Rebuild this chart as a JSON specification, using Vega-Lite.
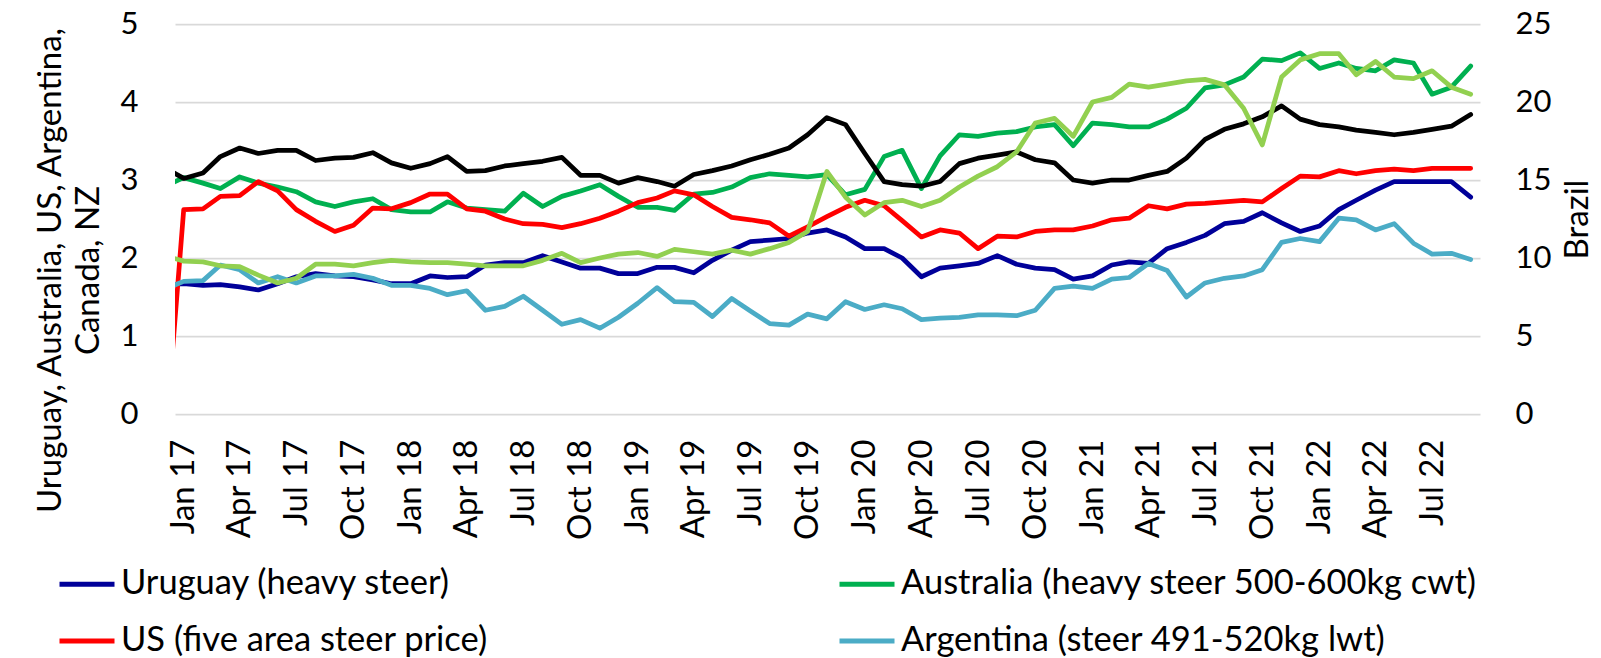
{
  "$schema": "https://vega.github.io/schema/vega-lite/v6.json",
  "width": 1305,
  "height": 390,
  "autosize": "none",
  "padding": {"left": 175, "top": 24, "right": 121, "bottom": 244},
  "background": "white",
  "config": {"view": {"stroke": null}},
  "data": {"values": [
    {"d":"2016-12-01","Uruguay":1.65,"Australia":2.92,"US":-0.5,"Argentina":1.60,"Canada":3.16,"Brazil":10.15},
    {"d":"2017-01-01","Uruguay":1.67,"Australia":3.03,"US":2.62,"Argentina":1.70,"Canada":3.02,"Brazil":9.8},
    {"d":"2017-02-01","Uruguay":1.65,"Australia":2.96,"US":2.63,"Argentina":1.71,"Canada":3.09,"Brazil":9.75},
    {"d":"2017-03-01","Uruguay":1.66,"Australia":2.89,"US":2.79,"Argentina":1.91,"Canada":3.30,"Brazil":9.5},
    {"d":"2017-04-01","Uruguay":1.63,"Australia":3.04,"US":2.80,"Argentina":1.85,"Canada":3.41,"Brazil":9.45},
    {"d":"2017-05-01","Uruguay":1.59,"Australia":2.96,"US":2.98,"Argentina":1.68,"Canada":3.34,"Brazil":8.9},
    {"d":"2017-06-01","Uruguay":1.67,"Australia":2.91,"US":2.86,"Argentina":1.76,"Canada":3.38,"Brazil":8.4},
    {"d":"2017-07-01","Uruguay":1.76,"Australia":2.85,"US":2.62,"Argentina":1.68,"Canada":3.38,"Brazil":8.7},
    {"d":"2017-08-01","Uruguay":1.80,"Australia":2.72,"US":2.47,"Argentina":1.77,"Canada":3.25,"Brazil":9.6},
    {"d":"2017-09-01","Uruguay":1.77,"Australia":2.66,"US":2.34,"Argentina":1.77,"Canada":3.28,"Brazil":9.6},
    {"d":"2017-10-01","Uruguay":1.76,"Australia":2.72,"US":2.42,"Argentina":1.79,"Canada":3.29,"Brazil":9.5},
    {"d":"2017-11-01","Uruguay":1.72,"Australia":2.76,"US":2.64,"Argentina":1.74,"Canada":3.35,"Brazil":9.7},
    {"d":"2017-12-01","Uruguay":1.67,"Australia":2.62,"US":2.63,"Argentina":1.65,"Canada":3.22,"Brazil":9.85},
    {"d":"2018-01-01","Uruguay":1.67,"Australia":2.59,"US":2.71,"Argentina":1.65,"Canada":3.15,"Brazil":9.75},
    {"d":"2018-02-01","Uruguay":1.77,"Australia":2.59,"US":2.82,"Argentina":1.61,"Canada":3.21,"Brazil":9.7},
    {"d":"2018-03-01","Uruguay":1.75,"Australia":2.72,"US":2.82,"Argentina":1.53,"Canada":3.30,"Brazil":9.7},
    {"d":"2018-04-01","Uruguay":1.76,"Australia":2.64,"US":2.63,"Argentina":1.58,"Canada":3.11,"Brazil":9.6},
    {"d":"2018-05-01","Uruguay":1.91,"Australia":2.62,"US":2.60,"Argentina":1.33,"Canada":3.12,"Brazil":9.5},
    {"d":"2018-06-01","Uruguay":1.94,"Australia":2.60,"US":2.50,"Argentina":1.38,"Canada":3.18,"Brazil":9.5},
    {"d":"2018-07-01","Uruguay":1.94,"Australia":2.83,"US":2.44,"Argentina":1.51,"Canada":3.21,"Brazil":9.5},
    {"d":"2018-08-01","Uruguay":2.03,"Australia":2.66,"US":2.43,"Argentina":1.33,"Canada":3.24,"Brazil":9.85},
    {"d":"2018-09-01","Uruguay":1.95,"Australia":2.79,"US":2.39,"Argentina":1.15,"Canada":3.29,"Brazil":10.3},
    {"d":"2018-10-01","Uruguay":1.87,"Australia":2.86,"US":2.44,"Argentina":1.21,"Canada":3.06,"Brazil":9.7},
    {"d":"2018-11-01","Uruguay":1.87,"Australia":2.94,"US":2.51,"Argentina":1.10,"Canada":3.06,"Brazil":10.0},
    {"d":"2018-12-01","Uruguay":1.80,"Australia":2.79,"US":2.60,"Argentina":1.24,"Canada":2.96,"Brazil":10.25},
    {"d":"2019-01-01","Uruguay":1.80,"Australia":2.65,"US":2.71,"Argentina":1.42,"Canada":3.03,"Brazil":10.35},
    {"d":"2019-02-01","Uruguay":1.88,"Australia":2.65,"US":2.77,"Argentina":1.62,"Canada":2.98,"Brazil":10.1},
    {"d":"2019-03-01","Uruguay":1.88,"Australia":2.61,"US":2.86,"Argentina":1.44,"Canada":2.92,"Brazil":10.55},
    {"d":"2019-04-01","Uruguay":1.81,"Australia":2.82,"US":2.81,"Argentina":1.43,"Canada":3.07,"Brazil":10.4},
    {"d":"2019-05-01","Uruguay":1.97,"Australia":2.84,"US":2.66,"Argentina":1.25,"Canada":3.12,"Brazil":10.25},
    {"d":"2019-06-01","Uruguay":2.10,"Australia":2.91,"US":2.52,"Argentina":1.48,"Canada":3.18,"Brazil":10.5},
    {"d":"2019-07-01","Uruguay":2.21,"Australia":3.03,"US":2.49,"Argentina":1.32,"Canada":3.26,"Brazil":10.25},
    {"d":"2019-08-01","Uruguay":2.23,"Australia":3.08,"US":2.45,"Argentina":1.16,"Canada":3.33,"Brazil":10.6},
    {"d":"2019-09-01","Uruguay":2.25,"Australia":3.06,"US":2.28,"Argentina":1.14,"Canada":3.41,"Brazil":11.0},
    {"d":"2019-10-01","Uruguay":2.32,"Australia":3.04,"US":2.40,"Argentina":1.28,"Canada":3.58,"Brazil":11.7},
    {"d":"2019-11-01","Uruguay":2.36,"Australia":3.07,"US":2.53,"Argentina":1.22,"Canada":3.80,"Brazil":15.55},
    {"d":"2019-12-01","Uruguay":2.27,"Australia":2.81,"US":2.65,"Argentina":1.44,"Canada":3.71,"Brazil":13.9},
    {"d":"2020-01-01","Uruguay":2.12,"Australia":2.88,"US":2.74,"Argentina":1.34,"Canada":3.34,"Brazil":12.75},
    {"d":"2020-02-01","Uruguay":2.12,"Australia":3.30,"US":2.67,"Argentina":1.40,"Canada":2.98,"Brazil":13.55},
    {"d":"2020-03-01","Uruguay":2.00,"Australia":3.38,"US":2.48,"Argentina":1.35,"Canada":2.94,"Brazil":13.7},
    {"d":"2020-04-01","Uruguay":1.76,"Australia":2.89,"US":2.27,"Argentina":1.21,"Canada":2.92,"Brazil":13.3},
    {"d":"2020-05-01","Uruguay":1.87,"Australia":3.31,"US":2.36,"Argentina":1.23,"Canada":2.98,"Brazil":13.7},
    {"d":"2020-06-01","Uruguay":1.90,"Australia":3.58,"US":2.32,"Argentina":1.24,"Canada":3.21,"Brazil":14.55},
    {"d":"2020-07-01","Uruguay":1.93,"Australia":3.56,"US":2.12,"Argentina":1.27,"Canada":3.28,"Brazil":15.25},
    {"d":"2020-08-01","Uruguay":2.03,"Australia":3.60,"US":2.28,"Argentina":1.27,"Canada":3.32,"Brazil":15.85},
    {"d":"2020-09-01","Uruguay":1.92,"Australia":3.62,"US":2.27,"Argentina":1.26,"Canada":3.36,"Brazil":16.8},
    {"d":"2020-10-01","Uruguay":1.87,"Australia":3.68,"US":2.34,"Argentina":1.33,"Canada":3.26,"Brazil":18.65},
    {"d":"2020-11-01","Uruguay":1.85,"Australia":3.71,"US":2.36,"Argentina":1.61,"Canada":3.22,"Brazil":18.95},
    {"d":"2020-12-01","Uruguay":1.73,"Australia":3.44,"US":2.36,"Argentina":1.64,"Canada":3.00,"Brazil":17.8},
    {"d":"2021-01-01","Uruguay":1.77,"Australia":3.73,"US":2.41,"Argentina":1.61,"Canada":2.96,"Brazil":20.0},
    {"d":"2021-02-01","Uruguay":1.91,"Australia":3.71,"US":2.49,"Argentina":1.73,"Canada":3.00,"Brazil":20.3},
    {"d":"2021-03-01","Uruguay":1.95,"Australia":3.68,"US":2.51,"Argentina":1.75,"Canada":3.00,"Brazil":21.15},
    {"d":"2021-04-01","Uruguay":1.93,"Australia":3.68,"US":2.67,"Argentina":1.93,"Canada":3.06,"Brazil":20.95},
    {"d":"2021-05-01","Uruguay":2.12,"Australia":3.78,"US":2.63,"Argentina":1.84,"Canada":3.11,"Brazil":21.15},
    {"d":"2021-06-01","Uruguay":2.20,"Australia":3.92,"US":2.69,"Argentina":1.50,"Canada":3.28,"Brazil":21.35},
    {"d":"2021-07-01","Uruguay":2.29,"Australia":4.18,"US":2.70,"Argentina":1.68,"Canada":3.52,"Brazil":21.45},
    {"d":"2021-08-01","Uruguay":2.44,"Australia":4.22,"US":2.72,"Argentina":1.74,"Canada":3.65,"Brazil":21.1},
    {"d":"2021-09-01","Uruguay":2.47,"Australia":4.32,"US":2.74,"Argentina":1.77,"Canada":3.72,"Brazil":19.6},
    {"d":"2021-10-01","Uruguay":2.58,"Australia":4.55,"US":2.72,"Argentina":1.85,"Canada":3.81,"Brazil":17.25},
    {"d":"2021-11-01","Uruguay":2.45,"Australia":4.53,"US":2.89,"Argentina":2.20,"Canada":3.95,"Brazil":21.6},
    {"d":"2021-12-01","Uruguay":2.34,"Australia":4.63,"US":3.05,"Argentina":2.25,"Canada":3.78,"Brazil":22.7},
    {"d":"2022-01-01","Uruguay":2.41,"Australia":4.43,"US":3.04,"Argentina":2.21,"Canada":3.71,"Brazil":23.1},
    {"d":"2022-02-01","Uruguay":2.62,"Australia":4.50,"US":3.12,"Argentina":2.51,"Canada":3.68,"Brazil":23.1},
    {"d":"2022-03-01","Uruguay":2.74,"Australia":4.43,"US":3.08,"Argentina":2.49,"Canada":3.64,"Brazil":21.75},
    {"d":"2022-04-01","Uruguay":2.87,"Australia":4.40,"US":3.12,"Argentina":2.36,"Canada":3.61,"Brazil":22.6},
    {"d":"2022-05-01","Uruguay":2.98,"Australia":4.54,"US":3.14,"Argentina":2.44,"Canada":3.58,"Brazil":21.6},
    {"d":"2022-06-01","Uruguay":2.98,"Australia":4.50,"US":3.12,"Argentina":2.19,"Canada":3.61,"Brazil":21.5},
    {"d":"2022-07-01","Uruguay":2.98,"Australia":4.10,"US":3.15,"Argentina":2.05,"Canada":3.65,"Brazil":22.0},
    {"d":"2022-08-01","Uruguay":2.98,"Australia":4.19,"US":3.15,"Argentina":2.06,"Canada":3.69,"Brazil":20.95},
    {"d":"2022-09-01","Uruguay":2.78,"Australia":4.46,"US":3.15,"Argentina":1.98,"Canada":3.84,"Brazil":20.5}
  ]},
  "layer": [
    {
      "transform": [{"fold": ["Uruguay", "Australia", "US", "Argentina", "Canada"], "as": ["series", "value"]}],
      "mark": {"type": "line", "clip": true, "strokeWidth": 4.75, "strokeJoin": "round", "strokeCap": "round"},
      "encoding": {
        "x": {
          "field": "d", "type": "temporal",
          "scale": {"type": "utc", "domain": [{"year": 2016, "month": 12, "date": 18, "utc": true}, {"year": 2022, "month": 9, "date": 16, "utc": true}]},
          "axis": {
            "title": null,
            "labelExpr": "utcFormat(datum.value, '%b %y')",
            "values": [
              {"year":2017,"month":1,"date":1,"utc":true},{"year":2017,"month":4,"date":1,"utc":true},{"year":2017,"month":7,"date":1,"utc":true},{"year":2017,"month":10,"date":1,"utc":true},
              {"year":2018,"month":1,"date":1,"utc":true},{"year":2018,"month":4,"date":1,"utc":true},{"year":2018,"month":7,"date":1,"utc":true},{"year":2018,"month":10,"date":1,"utc":true},
              {"year":2019,"month":1,"date":1,"utc":true},{"year":2019,"month":4,"date":1,"utc":true},{"year":2019,"month":7,"date":1,"utc":true},{"year":2019,"month":10,"date":1,"utc":true},
              {"year":2020,"month":1,"date":1,"utc":true},{"year":2020,"month":4,"date":1,"utc":true},{"year":2020,"month":7,"date":1,"utc":true},{"year":2020,"month":10,"date":1,"utc":true},
              {"year":2021,"month":1,"date":1,"utc":true},{"year":2021,"month":4,"date":1,"utc":true},{"year":2021,"month":7,"date":1,"utc":true},{"year":2021,"month":10,"date":1,"utc":true},
              {"year":2022,"month":1,"date":1,"utc":true},{"year":2022,"month":4,"date":1,"utc":true},{"year":2022,"month":7,"date":1,"utc":true}
            ],
            "labelAngle": -90, "labelPadding": 25, "ticks": false, "domain": false, "grid": false,
            "labelFont": "Lato", "labelFontSize": 33, "labelColor": "#000000", "labelOverlap": false, "labelFlush": false
          }
        },
        "y": {
          "field": "value", "type": "quantitative",
          "scale": {"domain": [0, 5], "nice": false, "zero": false},
          "axis": {
            "values": [0, 1, 2, 3, 4, 5], "grid": true, "gridColor": "#D9D9D9", "gridWidth": 1.75,
            "domain": false, "ticks": false, "labelPadding": 37,
            "labelFont": "Lato", "labelFontSize": 31, "labelColor": "#000000",
            "title": ["Uruguay, Australia, US, Argentina,", "Canada, NZ"],
            "titleFont": "Lato", "titleFontSize": 33, "titleFontWeight": "normal", "titleColor": "#000000",
            "titleAngle": -90, "titleAlign": "center", "titleBaseline": "middle", "titleLineHeight": 38,
            "titleX": -125, "titleY": 246
          }
        },
        "color": {
          "field": "series", "type": "nominal",
          "scale": {
            "domain": ["Uruguay", "US", "Canada", "Australia", "Argentina", "Brazil"],
            "range": ["#000099", "#FF0000", "#000000", "#00B050", "#4BACC6", "#92D050"]
          },
          "legend": {
            "orient": "none", "legendX": -118, "legendY": 530, "columns": 2, "columnPadding": 341, "rowPadding": 10,
            "padding": 0, "title": null, "symbolType": "stroke", "symbolSize": 3025, "symbolStrokeWidth": 5,
            "labelFont": "Lato", "labelFontSize": 34.5, "labelColor": "#000000", "labelLimit": 1000, "labelOffset": 4,
            "labelExpr": "datum.label == 'Uruguay' ? 'Uruguay (heavy steer)' : datum.label == 'Australia' ? 'Australia (heavy steer 500-600kg cwt)' : datum.label == 'US' ? 'US (five area steer price)' : datum.label == 'Argentina' ? 'Argentina (steer 491-520kg lwt)' : datum.label"
          }
        }
      }
    },
    {
      "transform": [{"fold": ["Brazil"], "as": ["series", "value"]}],
      "mark": {"type": "line", "clip": true, "strokeWidth": 4.75, "strokeJoin": "round", "strokeCap": "round"},
      "encoding": {
        "x": {"field": "d", "type": "temporal"},
        "y": {
          "field": "value", "type": "quantitative",
          "scale": {"domain": [0, 25], "nice": false, "zero": false},
          "axis": {
            "orient": "right", "values": [0, 5, 10, 15, 20, 25], "grid": false, "domain": false, "ticks": false,
            "labelPadding": 35, "labelFont": "Lato", "labelFontSize": 31, "labelColor": "#000000",
            "title": "Brazil", "titleFont": "Lato", "titleFontSize": 33, "titleFontWeight": "normal", "titleColor": "#000000",
            "titleAngle": -90, "titleAlign": "center", "titleBaseline": "middle", "titleX": 97, "titleY": 195
          }
        },
        "color": {"field": "series", "type": "nominal"}
      }
    }
  ],
  "resolve": {"scale": {"y": "independent"}}
}
